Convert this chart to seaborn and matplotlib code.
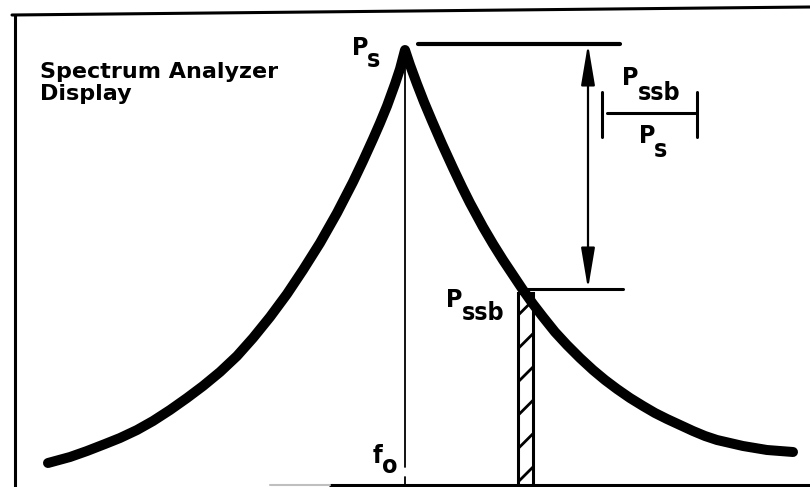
"""Spectrum analyzer display: carrier peak P_s and single sideband level P_ssb."""

import matplotlib
matplotlib.use('Agg')
import matplotlib.pyplot as plt
from matplotlib import font_manager
import pandas as pd
import seaborn as sns

sns.set_theme(style='white')
plt.rcParams['font.family'] = ['DejaVu Sans']
plt.rcParams['hatch.linewidth'] = 2.0

# condensed bold face for the symbol labels, if one is installed
names = {f.name for f in font_manager.fontManager.ttflist}
stretches = {f.stretch for f in font_manager.fontManager.ttflist if f.name == 'DejaVu Sans'}
if 'Liberation Sans Narrow' in names:
    label_font = dict(family=['Liberation Sans Narrow'], fontsize=19)
elif 'condensed' in stretches or 'semi-condensed' in stretches:
    label_font = dict(family=['DejaVu Sans'], fontstretch='condensed', fontsize=18)
else:
    label_font = dict(family=['Liberation Sans'], fontsize=17.5)

# trace: x = frequency position, y = rows down from top edge
left_x = [48, 70, 87, 105, 120, 137, 153, 170, 187, 203, 220, 237, 253, 270,
          287, 303, 320, 337, 353, 363, 373, 380, 387, 395, 400]
left_y = [463, 457, 451, 444, 438, 430, 421, 410, 398, 386, 372, 356, 338, 317,
          294, 270, 243, 213, 182, 161, 139, 123, 106, 84, 69]
peak_x, peak_y = 405, 50
right_x = [410, 417, 424, 432, 442, 453, 462, 470, 483, 493, 503, 513, 523, 533,
           543, 555, 567, 580, 593, 605, 617, 630, 643, 655, 667, 680, 693, 705,
           717, 730, 743, 755, 767, 780, 793]
right_y = [65, 84, 102, 121, 144, 168, 187, 203, 227, 244, 260, 275, 290, 304,
           317, 332, 345, 358, 370, 380, 389, 398, 406, 413, 419, 425, 431, 436,
           440, 443, 446, 448, 450, 451, 452]

ps_row = 44        # carrier reference line
ssb_row = 289      # sideband reference line
ssb_x = 525.5      # sideband bin centre
ssb_top = 293
ssb_width = 15
baseline = 485

trace = pd.DataFrame({'freq': left_x + [peak_x] + right_x,
                      'row': left_y + [peak_y] + right_y})

fig = plt.figure(figsize=(8.1, 4.87), dpi=100)
ax = fig.add_axes([0, 0, 1, 1])

# display frame (left edge, top edge, baseline)
ax.plot([15, 15], [487, 15], color='black', lw=2.2)
ax.plot([12, 810], [15, 7], color='black', lw=2.2)
ax.plot([330, 810], [baseline, baseline], color='black', lw=2.2)
ax.plot([270, 330], [baseline, baseline], color='0.75', lw=1.5)

# hatched sideband bin
ax.bar([ssb_x], [baseline - ssb_top], bottom=ssb_top, width=ssb_width,
       facecolor='white', edgecolor='black', linewidth=2.2, hatch='/', zorder=2)

# carrier marker line at f0
ax.plot([peak_x, peak_x], [52, 467], color='black', lw=1.3)
ax.plot([peak_x, peak_x], [477, 487], color='black', lw=1.3)

sns.lineplot(data=trace, x='freq', y='row', ax=ax, sort=False, color='black',
             lw=7.2, solid_capstyle='round', solid_joinstyle='round', zorder=3)

# reference levels and the ratio arrow
ax.plot([418, 620], [ps_row, ps_row], color='black', lw=3)
ax.plot([523, 623], [ssb_row, ssb_row], color='black', lw=2.2)
ax.annotate('', xy=(588, ps_row), xytext=(588, ssb_row),
            arrowprops=dict(arrowstyle='<|-|>,head_length=2.5,head_width=0.42',
                            color='black', lw=1.6, shrinkA=0, shrinkB=0,
                            mutation_scale=10))

# fraction Pssb / Ps
ax.plot([607, 695], [113, 113], color='black', lw=2.2)
ax.plot([602, 602], [92, 137], color='black', lw=2.2)
ax.plot([697, 697], [92, 137], color='black', lw=2.2)

title = dict(color='black', fontweight='bold', fontsize=16, va='baseline', ha='left')
ax.text(40, 78, 'Spectrum Analyzer', **title)
ax.text(40, 100, 'Display', **title)

lab = dict(color='black', fontweight='bold', va='baseline', ha='left', **label_font)
ax.text(352, 55, 'P', **lab)
ax.text(367, 67, 's', **lab)
ax.text(622, 85, 'P', **lab)
ax.text(638, 100, 'ssb', **lab)
ax.text(639, 143, 'P', **lab)
ax.text(654, 157, 's', **lab)
ax.text(446, 307, 'P', **lab)
ax.text(462, 320, 'ssb', **lab)
ax.text(373, 463, 'f', **lab)
ax.text(382, 473, 'o', **lab)

ax.set_xlim(0, 810)
ax.set_ylim(487, 0)
ax.set_axis_off()

fig.savefig('out.png', dpi=100, facecolor='white')
